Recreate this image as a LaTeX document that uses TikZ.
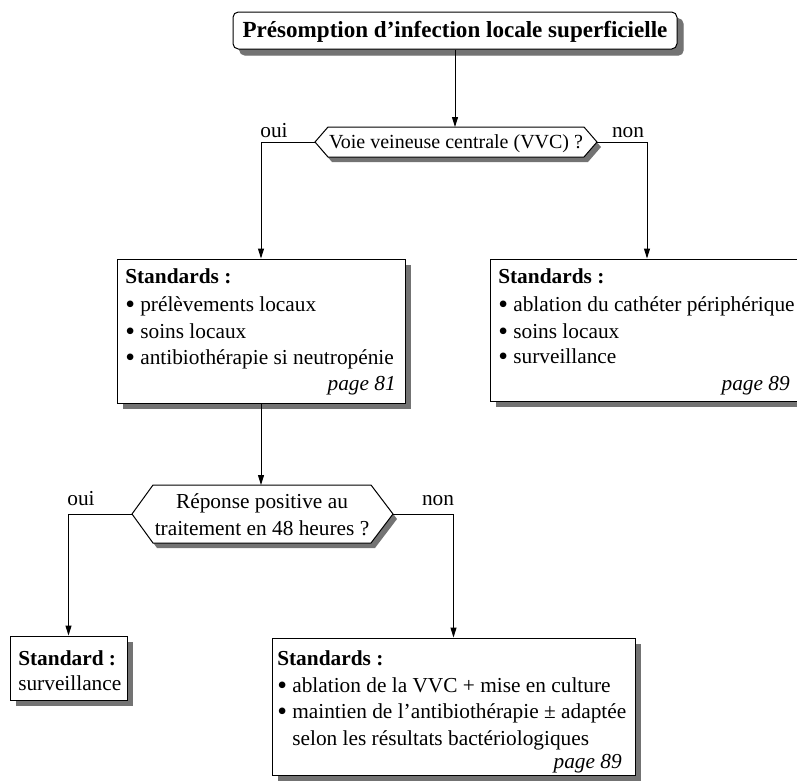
\documentclass[tikz,border=0pt]{standalone}
\usepackage{fontspec}
\setmainfont{Liberation Serif}
\usetikzlibrary{arrows.meta,shadows,fit}
\newcommand{\bul}{\raisebox{-0.1em}{\scalebox{1.3}{\textbullet}}}
\tikzset{
  boxshape/.style={draw, fill=white, line width=0.75pt, inner sep=0pt,
    drop shadow={shadow xshift=4.5pt, shadow yshift=-4.5pt, fill=black!55, opacity=1}},
  titlebox/.style={boxshape, rounded corners=4pt,
    drop shadow={shadow xshift=5pt, shadow yshift=-5pt, fill=black!55, opacity=1}},
  hexshadow/.style={fill=black!55},
  hexbody/.style={draw, fill=white, line width=0.75pt},
  ln/.style={anchor=base west, inner sep=0pt, font=\fontsize{16}{19}\selectfont},
  ctr/.style={anchor=base, inner sep=0pt, font=\fontsize{16}{19}\selectfont},
  pg/.style={anchor=base east, inner sep=0pt, font=\fontsize{16}{19}\selectfont\itshape},
  lbl/.style={anchor=base, inner sep=0pt, font=\fontsize{16}{19}\selectfont},
  arr/.style={line width=0.75pt, -{Triangle[length=7.5pt,width=4.5pt]}}
}
\begin{document}
\begin{tikzpicture}[x=0.75pt,y=-0.75pt]
\useasboundingbox (0,0) rectangle (797,783);
\clip (0,0) rectangle (797,783);
\fill[white] (0,0) rectangle (797,783);

% title
\coordinate (t0a) at (233,12);
\coordinate (t0b) at (677,49);
\node[titlebox, fit=(t0a)(t0b)] (title) {};
\node[anchor=base, inner sep=0pt, font=\fontsize{17.3}{20}\selectfont\bfseries] (titletxt) at (455,37) {Présomption d’infection locale superficielle};

% hexagon 1
\coordinate (h1w) at (315,142);
\coordinate (h1e) at (597,142);
\coordinate (h1n) at (455,127);
\fill[hexshadow, shift={(4,5)}] (315,142) -- (328,127) -- (584,127) -- (597,142) -- (584,157) -- (328,157) -- cycle;
\draw[hexbody] (h1w) -- (328,127) -- (584,127) -- (h1e) -- (584,157) -- (328,157) -- cycle;
\node[anchor=base, inner sep=0pt, font=\fontsize{15}{18}\selectfont] (h1txt) at (456,148) {Voie veineuse centrale (VVC) ?};

% box 1
\coordinate (b1a) at (117,259);
\coordinate (b1b) at (405,403);
\node[boxshape, fit=(b1a)(b1b)] (b1) {};
\node[ln] (b1l0) at (125,283) {\textbf{Standards :}};
\node[ln] (b1l1) at (125,311) {\bul\ prélèvements locaux};
\node[ln] (b1l2) at (125,338) {\bul\ soins locaux};
\node[ln] (b1l3) at (125,364) {\bul\ antibiothérapie si neutropénie};
\node[pg] (b1pg) at (396,390) {page 81};

% box 2
\coordinate (b2a) at (490,259);
\coordinate (b2b) at (804,401);
\node[boxshape, fit=(b2a)(b2b)] (b2) {};
\node[ln] (b2l0) at (498,283) {\textbf{Standards :}};
\node[ln] (b2l1) at (498,311) {\bul\ ablation du cathéter périphérique};
\node[ln] (b2l2) at (498,338) {\bul\ soins locaux};
\node[ln] (b2l3) at (498,363) {\bul\ surveillance};
\node[pg] (b2pg) at (790,390) {page 89};

% hexagon 2
\coordinate (h2w) at (132,514);
\coordinate (h2e) at (393,514);
\coordinate (h2n) at (261,485);
\fill[hexshadow, shift={(4,5)}] (132,514) -- (153,485) -- (371,485) -- (393,514) -- (371,543) -- (153,543) -- cycle;
\draw[hexbody] (h2w) -- (153,485) -- (371,485) -- (h2e) -- (371,543) -- (153,543) -- cycle;
\node[ctr] (h2l1) at (262,508) {Réponse positive au};
\node[ctr] (h2l2) at (262,535) {traitement en 48 heures ?};

% box 3
\coordinate (b3a) at (10,636);
\coordinate (b3b) at (127,700);
\node[boxshape, fit=(b3a)(b3b)] (b3) {};
\node[ln] (b3l0) at (18,665) {\textbf{Standard :}};
\node[ln] (b3l1) at (18,690) {surveillance};

% box 4
\coordinate (b4a) at (272,638);
\coordinate (b4b) at (635,775);
\node[boxshape, fit=(b4a)(b4b)] (b4) {};
\node[ln] (b4l0) at (277,665) {\textbf{Standards :}};
\node[ln] (b4l1) at (277,692) {\bul\ ablation de la VVC + mise en culture};
\node[ln] (b4l2) at (277,718) {\bul\ maintien de l’antibiothérapie ± adaptée};
\node[ln] (b4l3) at (277,745) {\phantom{\bul\ }selon les résultats bactériologiques};
\node[pg] (b4pg) at (622,768) {page 89};

% labels
\node[lbl] (oui1) at (274,137) {oui};
\node[lbl] (non1) at (628,137) {non};
\node[lbl] (oui2) at (81,505) {oui};
\node[lbl] (non2) at (438,505) {non};

% connectors
\draw[arr] (title.south) -- (h1n);
\draw[arr] (h1w) -| (b1.north);
\draw[arr] (h1e) -| (b2.north);
\draw[arr] (b1.south) -- (h2n);
\draw[arr] (h2w) -| (b3.north);
\draw[arr] (h2e) -| (b4.north);
\end{tikzpicture}
\end{document}
